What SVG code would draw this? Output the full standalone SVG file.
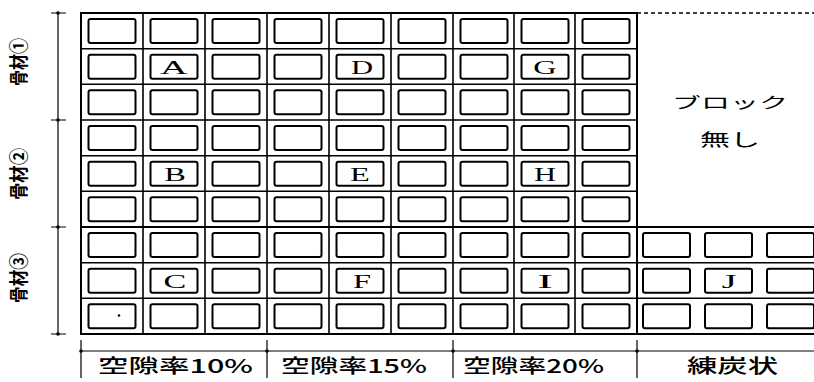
<svg xmlns="http://www.w3.org/2000/svg" xmlns:xlink="http://www.w3.org/1999/xlink" width="814" height="382" viewBox="0 0 814 382">
<style>
.grid{stroke:#000;stroke-width:1.6;fill:none}
.frame{stroke:#000;stroke-width:2;fill:none}
.dim{stroke:#000;stroke-width:1.2;fill:none}
.dash{stroke:#000;stroke-width:1.5;fill:none;stroke-dasharray:4 3}
.bx{stroke:#000;stroke-width:2;fill:#fff}
.lt{font-family:"Liberation Serif","Times New Roman",serif;font-size:18px;fill:#000;text-anchor:middle}
.jp{font-family:"Noto Sans CJK JP","Noto Sans CJK SC",sans-serif;fill:#000}
</style>
<defs>
<rect id="b" x="0" y="0" width="47" height="24" rx="2" ry="2" class="bx"/>
</defs>
<rect width="814" height="382" fill="#fff"/>

<g id="grid-lines">
<rect class="frame" x="81" y="13" width="556" height="321"/>
<path class="grid" d="M143 13V334M205 13V334M267 13V334M329 13V334M391 13V334M453 13V334M514 13V334M575 13V334"/>
<path class="grid" d="M81 48.7H637M81 84.3H637M81 120H637M81 155.7H637M81 191.3H637M81 262.7H814M81 298.3H814"/>
<path class="frame" d="M637 227H814M637 334H814M81 227H637"/>
<path class="dash" d="M637 13H814"/>
</g>

<g id="dimensions">
<path class="dim" d="M58 13V334M51 13H66M51 120H66M51 227H66M51 334H66"/>
<path class="dim" d="M81 351H814M81 340V378M267 340V378M453 340V378M637 340V378"/>
<circle cx="58" cy="13" r="1.8"/><circle cx="58" cy="120" r="1.8"/><circle cx="58" cy="227" r="1.8"/><circle cx="58" cy="334" r="1.8"/>
<circle cx="81" cy="351" r="1.8"/><circle cx="267" cy="351" r="1.8"/><circle cx="453" cy="351" r="1.8"/><circle cx="637" cy="351" r="1.8"/>
</g>

<g id="row1">
<use xlink:href="#b" x="88.5" y="19"/><use xlink:href="#b" x="150.5" y="19"/><use xlink:href="#b" x="212.5" y="19"/><use xlink:href="#b" x="274.5" y="19"/><use xlink:href="#b" x="336.5" y="19"/><use xlink:href="#b" x="398.5" y="19"/><use xlink:href="#b" x="460.5" y="19"/><use xlink:href="#b" x="521.5" y="19"/><use xlink:href="#b" x="582.5" y="19"/>
</g>
<g id="row2">
<use xlink:href="#b" x="88.5" y="54.7"/><use xlink:href="#b" x="212.5" y="54.7"/><use xlink:href="#b" x="274.5" y="54.7"/><use xlink:href="#b" x="398.5" y="54.7"/><use xlink:href="#b" x="460.5" y="54.7"/><use xlink:href="#b" x="582.5" y="54.7"/>
</g>
<g id="row3">
<use xlink:href="#b" x="88.5" y="90.3"/><use xlink:href="#b" x="150.5" y="90.3"/><use xlink:href="#b" x="212.5" y="90.3"/><use xlink:href="#b" x="274.5" y="90.3"/><use xlink:href="#b" x="336.5" y="90.3"/><use xlink:href="#b" x="398.5" y="90.3"/><use xlink:href="#b" x="460.5" y="90.3"/><use xlink:href="#b" x="521.5" y="90.3"/><use xlink:href="#b" x="582.5" y="90.3"/>
</g>
<g id="row4">
<use xlink:href="#b" x="88.5" y="126"/><use xlink:href="#b" x="150.5" y="126"/><use xlink:href="#b" x="212.5" y="126"/><use xlink:href="#b" x="274.5" y="126"/><use xlink:href="#b" x="336.5" y="126"/><use xlink:href="#b" x="398.5" y="126"/><use xlink:href="#b" x="460.5" y="126"/><use xlink:href="#b" x="521.5" y="126"/><use xlink:href="#b" x="582.5" y="126"/>
</g>
<g id="row5">
<use xlink:href="#b" x="88.5" y="161.7"/><use xlink:href="#b" x="212.5" y="161.7"/><use xlink:href="#b" x="274.5" y="161.7"/><use xlink:href="#b" x="398.5" y="161.7"/><use xlink:href="#b" x="460.5" y="161.7"/><use xlink:href="#b" x="582.5" y="161.7"/>
</g>
<g id="row6">
<use xlink:href="#b" x="88.5" y="197.3"/><use xlink:href="#b" x="150.5" y="197.3"/><use xlink:href="#b" x="212.5" y="197.3"/><use xlink:href="#b" x="274.5" y="197.3"/><use xlink:href="#b" x="336.5" y="197.3"/><use xlink:href="#b" x="398.5" y="197.3"/><use xlink:href="#b" x="460.5" y="197.3"/><use xlink:href="#b" x="521.5" y="197.3"/><use xlink:href="#b" x="582.5" y="197.3"/>
</g>
<g id="row7">
<use xlink:href="#b" x="88.5" y="233"/><use xlink:href="#b" x="150.5" y="233"/><use xlink:href="#b" x="212.5" y="233"/><use xlink:href="#b" x="274.5" y="233"/><use xlink:href="#b" x="336.5" y="233"/><use xlink:href="#b" x="398.5" y="233"/><use xlink:href="#b" x="460.5" y="233"/><use xlink:href="#b" x="521.5" y="233"/><use xlink:href="#b" x="582.5" y="233"/><use xlink:href="#b" x="643" y="233"/><use xlink:href="#b" x="705" y="233"/><use xlink:href="#b" x="767" y="233"/>
</g>
<g id="row8">
<use xlink:href="#b" x="88.5" y="268.7"/><use xlink:href="#b" x="212.5" y="268.7"/><use xlink:href="#b" x="274.5" y="268.7"/><use xlink:href="#b" x="398.5" y="268.7"/><use xlink:href="#b" x="460.5" y="268.7"/><use xlink:href="#b" x="582.5" y="268.7"/><use xlink:href="#b" x="643" y="268.7"/><use xlink:href="#b" x="767" y="268.7"/>
</g>
<g id="row9">
<use xlink:href="#b" x="88.5" y="304.3"/><use xlink:href="#b" x="150.5" y="304.3"/><use xlink:href="#b" x="212.5" y="304.3"/><use xlink:href="#b" x="274.5" y="304.3"/><use xlink:href="#b" x="336.5" y="304.3"/><use xlink:href="#b" x="398.5" y="304.3"/><use xlink:href="#b" x="460.5" y="304.3"/><use xlink:href="#b" x="521.5" y="304.3"/><use xlink:href="#b" x="582.5" y="304.3"/><use xlink:href="#b" x="643" y="304.3"/><use xlink:href="#b" x="705" y="304.3"/><use xlink:href="#b" x="767" y="304.3"/>
<circle cx="119" cy="315.5" r="1.3"/>
</g>

<g id="A"><use xlink:href="#b" x="150.5" y="54.7"/><text class="lt" transform="translate(174,73.5) scale(2.1,1)">A</text></g>
<g id="D"><use xlink:href="#b" x="336.5" y="54.7"/><text class="lt" transform="translate(362,73.5) scale(1.7,1)">D</text></g>
<g id="G"><use xlink:href="#b" x="521.5" y="54.7"/><text class="lt" transform="translate(545,73.5) scale(1.8,1)">G</text></g>
<g id="B"><use xlink:href="#b" x="150.5" y="161.7"/><text class="lt" transform="translate(175,180.5) scale(1.8,1)">B</text></g>
<g id="E"><use xlink:href="#b" x="336.5" y="161.7"/><text class="lt" transform="translate(360,180.5) scale(1.8,1)">E</text></g>
<g id="H"><use xlink:href="#b" x="521.5" y="161.7"/><text class="lt" transform="translate(545,180.5) scale(1.7,1)">H</text></g>
<g id="C"><use xlink:href="#b" x="150.5" y="268.7"/><text class="lt" transform="translate(175,287.5) scale(1.9,1)">C</text></g>
<g id="F"><use xlink:href="#b" x="336.5" y="268.7"/><text class="lt" transform="translate(362,287.5) scale(1.8,1)">F</text></g>
<g id="I"><use xlink:href="#b" x="521.5" y="268.7"/><text class="lt" transform="translate(545,287.5) scale(2.6,1)">I</text></g>
<g id="J"><use xlink:href="#b" x="705" y="268.7"/><text class="lt" transform="translate(729,287.5) scale(2.1,1)">J</text></g>

<g id="no-block">
<text class="jp" x="672" y="108" font-size="15" textLength="116" lengthAdjust="spacingAndGlyphs">ブロック</text>
<text class="jp" x="700" y="146" font-size="17" textLength="60" lengthAdjust="spacingAndGlyphs">無し</text>
</g>

<g id="left-labels">
<text class="jp" font-size="19" font-weight="bold" x="-24" textLength="48" lengthAdjust="spacingAndGlyphs" transform="translate(26,62) rotate(-90)">骨材①</text>
<text class="jp" font-size="19" font-weight="bold" x="-26" textLength="52" lengthAdjust="spacingAndGlyphs" transform="translate(26,174) rotate(-90)">骨材②</text>
<text class="jp" font-size="19" font-weight="bold" x="-25" textLength="50" lengthAdjust="spacingAndGlyphs" transform="translate(26,278) rotate(-90)">骨材③</text>
</g>

<g id="bottom-labels">
<text class="jp" x="98" y="373" font-size="19" font-weight="500" textLength="155" lengthAdjust="spacingAndGlyphs">空隙率10%</text>
<text class="jp" x="281" y="373" font-size="19" font-weight="500" textLength="146" lengthAdjust="spacingAndGlyphs">空隙率15%</text>
<text class="jp" x="463" y="373" font-size="19" font-weight="500" textLength="141" lengthAdjust="spacingAndGlyphs">空隙率20%</text>
<text class="jp" x="687" y="373" font-size="19" font-weight="500" textLength="91" lengthAdjust="spacingAndGlyphs">練炭状</text>
</g>
</svg>
